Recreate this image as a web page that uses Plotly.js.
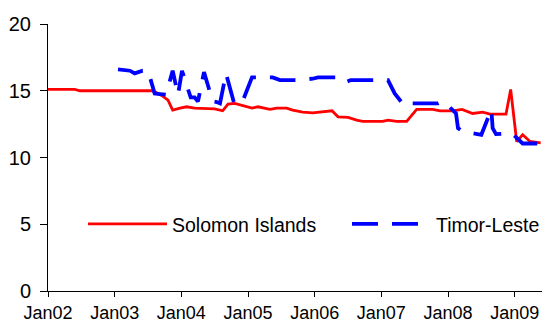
<!DOCTYPE html>
<html>
<head>
<meta charset="utf-8">
<script src="https://cdn.plot.ly/plotly-3.0.1.min.js"></script>
<style>
  html, body { margin: 0; padding: 0; background: #ffffff; }
  #chart { width: 547px; height: 322px; }
</style>
</head>
<body>
<div id="chart"></div>
<script>
// ---- Data (x as decimal years) ----
const seriesNames = ['Solomon Islands', 'Timor-Leste'];

const solYears = [2002.00, 2002.40, 2002.48, 2003.56, 2003.63, 2003.72, 2003.80, 2003.87, 2003.98, 2004.08,
  2004.20, 2004.38, 2004.50, 2004.62, 2004.70, 2004.80, 2004.91, 2004.98, 2005.06, 2005.15,
  2005.24, 2005.33, 2005.43, 2005.58, 2005.67, 2005.82, 2005.97, 2006.11, 2006.18, 2006.26,
  2006.35, 2006.50, 2006.63, 2006.72, 2007.02, 2007.10, 2007.23, 2007.38, 2007.53, 2007.77,
  2007.88, 2008.07, 2008.21, 2008.37, 2008.52, 2008.63, 2008.82, 2008.87, 2008.94, 2009.03,
  2009.12, 2009.23, 2009.39];
const solValues = [15.1, 15.1, 15.0, 15.0, 14.85, 14.6, 14.3, 13.55, 13.7, 13.8,
  13.7, 13.7, 13.65, 13.5, 14.0, 14.05, 13.9, 13.85, 13.7, 13.8,
  13.7, 13.6, 13.7, 13.7, 13.55, 13.4, 13.35, 13.4, 13.45, 13.5,
  13.05, 13.0, 12.8, 12.7, 12.7, 12.8, 12.7, 12.7, 13.6, 13.6,
  13.5, 13.5, 13.6, 13.3, 13.4, 13.25, 13.25, 13.25, 15.1, 11.2,
  11.7, 11.2, 11.1];

const timYears = [2003.05, 2003.23, 2003.30, 2003.42, 2003.50, 2003.60, 2003.68, 2003.77, 2003.87, 2003.95,
  2004.01, 2004.14, 2004.20, 2004.25, 2004.34, 2004.47, 2004.53, 2004.58, 2004.67, 2004.79,
  2004.91, 2005.06, 2005.25, 2005.37, 2005.48, 2005.73, 2005.97, 2006.05, 2006.38, 2006.47,
  2006.54, 2006.75, 2006.98, 2007.10, 2007.20, 2007.31, 2007.38, 2007.46, 2007.65, 2007.85,
  2007.92, 2008.00, 2008.12, 2008.15, 2008.22, 2008.50, 2008.65, 2008.67, 2008.72, 2008.96,
  2009.12, 2009.39];
const timValues = [16.6, 16.5, 16.3, 16.5, 16.5, 14.8, 14.75, 14.7, 16.5, 14.7,
  16.5, 14.5, 14.5, 14.2, 16.4, 14.2, 14.15, 14.05, 16.3, 14.1,
  14.1, 16.0, 16.0, 16.0, 15.8, 15.8, 15.9, 16.0, 16.0, 15.65,
  15.8, 15.8, 15.8, 15.8, 14.8, 14.1, 13.85, 14.05, 14.05, 14.05,
  14.2, 13.9, 13.3, 12.2, 11.95, 11.7, 13.6, 12.2, 11.75, 11.8,
  11.05, 11.05];

const xTickVals = [2002, 2003, 2004, 2005, 2006, 2007, 2008, 2009];
const xTickText = ['Jan02', 'Jan03', 'Jan04', 'Jan05', 'Jan06', 'Jan07', 'Jan08', 'Jan09'];
const yTickVals = [0, 5, 10, 15, 20];

const FONT = 'Liberation Sans, Arial, sans-serif';

const traces = [
  {
    x: solYears, y: solValues, name: seriesNames[0], type: 'scatter', mode: 'lines',
    legendwidth: 170,
    line: { color: '#FF0000', width: 2.8 }
  },
  {
    x: timYears, y: timValues, name: seriesNames[1], type: 'scatter', mode: 'lines',
    legendwidth: 101,
    line: { color: '#0000FF', width: 3.8, dash: '26px,14px' }
  }
];

const layout = {
  width: 547, height: 322,
  margin: { l: 48, r: 5, t: 24, b: 31, pad: 0 },
  paper_bgcolor: '#ffffff', plot_bgcolor: '#ffffff',
  font: { family: FONT, size: 20, color: '#000000' },
  showlegend: true,
  legend: {
    orientation: 'h',
    x: 1, xanchor: 'right',
    y: 0.25, yanchor: 'middle',
    bgcolor: 'rgba(0,0,0,0)',
    itemwidth: 79,
    font: { family: FONT, size: 19.5, color: '#000000' }
  },
  xaxis: {
    range: [2002, 2009.41],
    tickmode: 'array', tickvals: xTickVals, ticktext: xTickText,
    showgrid: false, zeroline: false,
    showline: true, linecolor: '#000000', linewidth: 1,
    ticks: 'outside', ticklen: 5, tickcolor: '#000000', tickwidth: 1,
    tickfont: { family: FONT, size: 18, color: '#000000' },
    fixedrange: true
  },
  yaxis: {
    range: [0, 20],
    tickmode: 'array', tickvals: yTickVals,
    showgrid: false, zeroline: false,
    showline: true, linecolor: '#000000', linewidth: 1,
    ticks: 'outside', ticklen: 7, tickcolor: '#000000', tickwidth: 1,
    ticklabelstandoff: 5,
    tickfont: { family: FONT, size: 20, color: '#000000' },
    fixedrange: true
  }
};

Plotly.newPlot('chart', traces, layout, { displayModeBar: false, staticPlot: true });
</script>
</body>
</html>
